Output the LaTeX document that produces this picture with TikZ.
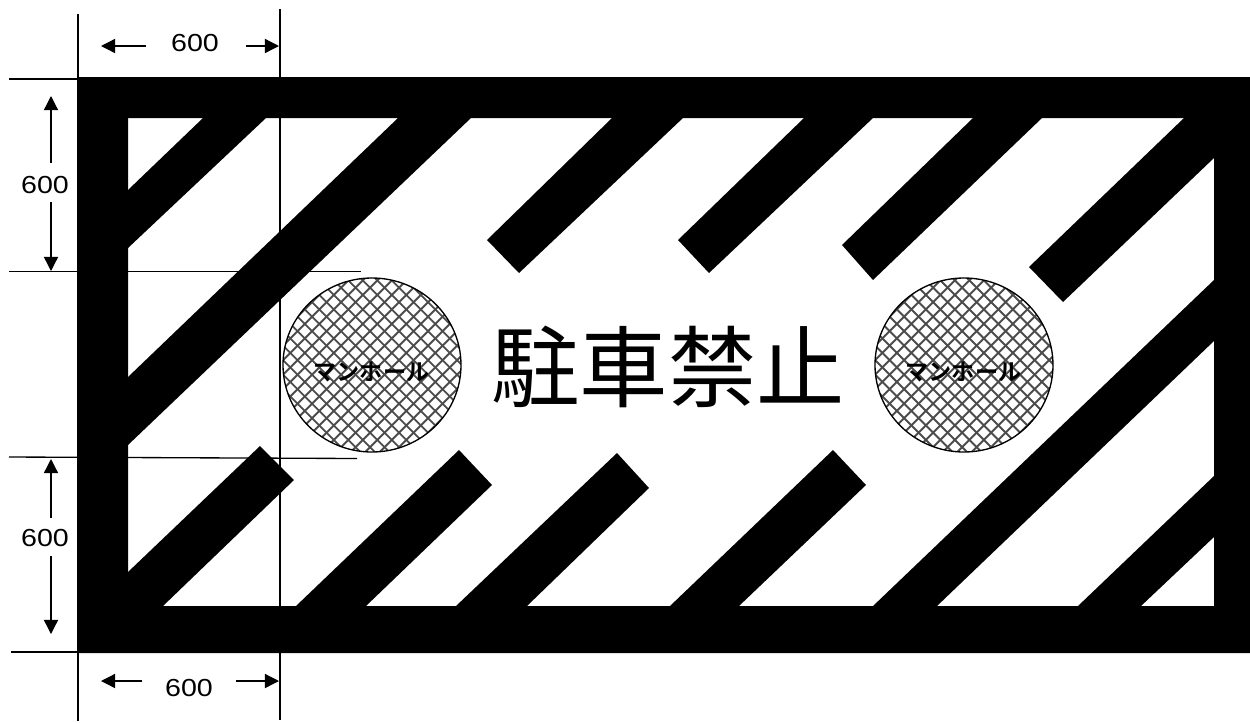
\documentclass[tikz,border=0pt]{standalone}
\usepackage{fontspec}
\usetikzlibrary{arrows.meta}
\newfontfamily\cjkfont{Noto Sans CJK JP}[BoldFont={Noto Sans CJK JP Bold}]
\newfontfamily\dimfont{Liberation Sans}[FakeStretch=1.16]
\tikzset{
  dimline/.style={black,line width=0.8pt},
  dimarrow/.style={black,line width=0.8pt,-{Triangle[length=8.5pt,width=8.5pt]}},
  dimlabel/.style={inner sep=0pt,font=\dimfont\fontsize{14.8}{16}\selectfont},
  solid shape/.style={fill=black,draw=none},
  hatchline/.style={line width=1.15pt,black!70},
  manhole/.style={draw=black,line width=0.8pt},
  holelabel/.style={inner sep=0pt,font=\cjkfont\bfseries\fontsize{13.9}{15}\selectfont},
}
\newcommand{\manholeat}[3]{%
  \begin{scope}
    \clip (#1,#2) ellipse [x radius=89,y radius=87];
    \foreach \k in {-10,...,10}{
      \draw[hatchline] (#1+\k*14.5+2.9-120,#2-120) -- (#1+\k*14.5+2.9+120,#2+120);
      \draw[hatchline] (#1+\k*14.5+7.8-120,#2+120) -- (#1+\k*14.5+7.8+120,#2-120);
    }
  \end{scope}
  \draw[manhole] (#1,#2) ellipse [x radius=89,y radius=87];
  \node[holelabel] (#3) at (#1-0.5,#2+7) {マンホール};
}
\begin{document}
\begin{tikzpicture}[x=0.6pt,y=-0.6pt]
\useasboundingbox (0,0) rectangle (1250,722);
% extension lines
\draw[dimline] (78,14) -- (78,80);
\draw[dimline] (78,650) -- (78,721);
\draw[dimline] (280,9) -- (280,720);
\draw[dimline] (9,79) -- (80,79);
\draw[dimline] (9,271.5) -- (361,271.5);
\draw[dimline] (9,457) -- (357,458.5);
\draw[dimline] (11,652) -- (80,652);
% frame
\fill[solid shape,even odd rule] (77,77) rectangle (1250,653) (128,118) rectangle (1214,606);
% stripes
\fill[solid shape] (128,190) -- (203,118) -- (266,118) -- (128,248) -- cycle;
\fill[solid shape] (128,377) -- (398,118) -- (471,118) -- (128,445) -- cycle;
\fill[solid shape] (487,240) -- (612,118) -- (683,118) -- (519,273) -- cycle;
\fill[solid shape] (678,240) -- (804,118) -- (873,118) -- (709,273) -- cycle;
\fill[solid shape] (842,245) -- (973,118) -- (1042,118) -- (873,280) -- cycle;
\fill[solid shape] (1029,267) -- (1184,118) -- (1214,118) -- (1214,158) -- (1063,302) -- cycle;
\fill[solid shape] (128,572) -- (260,446) -- (294,480) -- (163,606) -- (128,606) -- cycle;
\fill[solid shape] (296,606) -- (459,450) -- (492,485) -- (366,606) -- cycle;
\fill[solid shape] (456,606) -- (617,453) -- (649,488) -- (527,606) -- cycle;
\fill[solid shape] (670,606) -- (833,450) -- (866,485) -- (739,606) -- cycle;
\fill[solid shape] (873,606) -- (1214,280) -- (1214,341) -- (937,606) -- cycle;
\fill[solid shape] (1078,606) -- (1214,476) -- (1214,537) -- (1141,606) -- cycle;
% manholes
\manholeat{372}{365}{holeleft}
\manholeat{964}{365}{holeright}
% title
\node[inner sep=0pt,font=\cjkfont\fontsize{53}{56}\selectfont] (title) at (668,367) {駐車禁止};
% dimensions
\node[dimlabel] (dt) at (195,43) {600};
\draw[dimarrow] (146,46) -- (101,46);
\draw[dimarrow] (246,46) -- (279,46);
\node[dimlabel] (dl1) at (45,185) {600};
\draw[dimarrow] (51,163) -- (51,96);
\draw[dimarrow] (51,202) -- (51,271);
\node[dimlabel] (dl2) at (45,538) {600};
\draw[dimarrow] (51,518) -- (51,459);
\draw[dimarrow] (51,556) -- (51,634);
\node[dimlabel] (db) at (189,688) {600};
\draw[dimarrow] (142,681) -- (101,681);
\draw[dimarrow] (236,681) -- (279,681);
\end{tikzpicture}
\end{document}
